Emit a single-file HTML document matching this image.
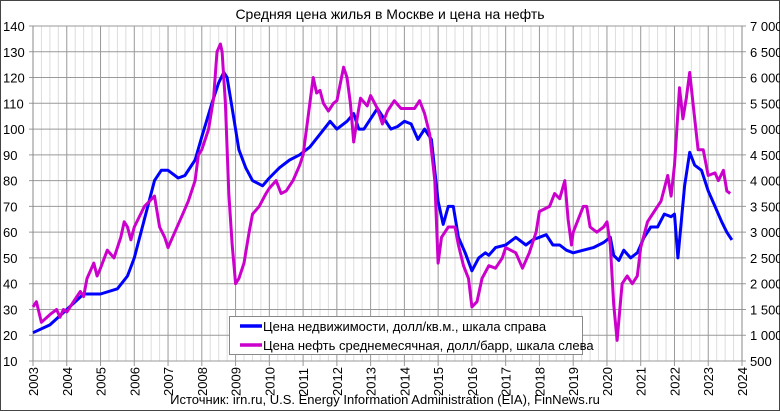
<!DOCTYPE html>
<html><head><meta charset="utf-8"><style>
body{margin:0;background:#fff}
svg{display:block;font-family:"Liberation Sans",Arial,sans-serif}
</style></head><body>
<svg id="s" width="780" height="411" xmlns="http://www.w3.org/2000/svg">
<rect x="0.5" y="0.5" width="779" height="410" fill="#fff" stroke="#444"/>
<g id="grid"></g>
<text x="390" y="19" font-size="14" text-anchor="middle" fill="#000">Средняя цена жилья в Москве и цена на нефть</text>
<g id="lab" font-size="13" fill="#000"></g>
<g id="series"></g>
<rect x="229.5" y="316.5" width="353" height="38" fill="#fff" stroke="#888"/>
<line x1="240" y1="326" x2="262" y2="326" stroke="#0000ff" stroke-width="3.5"/>
<text x="263" y="331" font-size="13">Цена недвижимости, долл/кв.м., шкала справа</text>
<line x1="240" y1="345" x2="262" y2="345" stroke="#cc00cc" stroke-width="3.5"/>
<text x="263" y="350" font-size="13">Цена нефть  среднемесячная, долл/барр, шкала слева</text>
<text x="385" y="404" font-size="13" text-anchor="middle">Источник: irn.ru, U.S. Energy Information Administration (EIA), FinNews.ru</text>
</svg>
<script>
const X0=33,X1=742,Y0=361,Y1=26;
const fx=y=>X0+(y-2003)*(X1-X0)/21, fy=v=>Y0-(v-10)*(Y0-Y1)/130;
let g='';
for(let q=0;q<=84;q++){const x=fx(2003+q/4);g+=`<line x1="${x}" y1="${Y1}" x2="${x}" y2="${Y0+(q%4?0:5)}" stroke="${q%4?'#ddd':'#999'}" stroke-width="1"/>`;}
for(let v=10;v<=140;v+=10){const y=fy(v);g+=`<line x1="${X0-4}" y1="${y}" x2="${X1+4}" y2="${y}" stroke="#999"/>`;}
g+=`<line x1="${X0}" y1="${Y1}" x2="${X0}" y2="${Y0}" stroke="#888"/><line x1="${X1}" y1="${Y1}" x2="${X1}" y2="${Y0}" stroke="#888"/>`;
document.getElementById('grid').innerHTML=g;
let l='';
for(let i=0;i<=13;i++){const v=10+i*10,y=fy(v)+5;l+=`<text x="3" y="${y}">${v}</text>`;
const r=500+i*500;l+=`<text x="${X1+8}" y="${y}">${r>=1000?Math.floor(r/1000)+'\u00a0'+String(r%1000).padStart(3,'0'):r}</text>`;}
for(let yr=2003;yr<=2024;yr++){const x=fx(yr)+5;l+=`<text transform="translate(${x},396) rotate(-90)">${yr}</text>`;}
document.getElementById('lab').innerHTML=l;
const oil=[2003,31,2003.1,33,2003.25,25,2003.5,28,2003.7,30,2003.8,27,2003.9,30,2004,29,2004.2,33,2004.4,37,2004.5,35,2004.6,42,2004.7,45,2004.8,48,2004.9,43,2005,46,2005.2,53,2005.4,50,2005.6,58,2005.7,64,2005.8,62,2005.9,57,2006,62,2006.3,70,2006.6,74,2006.75,62,2006.9,58,2007,54,2007.2,60,2007.4,66,2007.6,72,2007.8,80,2007.9,90,2008,92,2008.2,100,2008.35,112,2008.45,130,2008.55,133,2008.6,130,2008.7,110,2008.8,75,2008.9,55,2009,40,2009.1,42,2009.25,48,2009.4,60,2009.5,67,2009.7,70,2009.9,75,2010,77,2010.2,80,2010.35,75,2010.5,76,2010.7,80,2010.9,86,2011,90,2011.1,100,2011.3,120,2011.4,114,2011.5,115,2011.6,110,2011.75,107,2011.9,110,2012,111,2012.2,124,2012.3,120,2012.4,110,2012.5,95,2012.6,104,2012.7,112,2012.9,109,2013,113,2013.2,108,2013.35,102,2013.5,107,2013.7,111,2013.9,108,2014,108,2014.3,108,2014.45,111,2014.6,106,2014.75,98,2014.9,80,2015,48,2015.1,58,2015.3,62,2015.5,62,2015.6,55,2015.75,47,2015.9,42,2016,31,2016.15,33,2016.3,42,2016.5,47,2016.7,46,2016.9,50,2017,54,2017.3,52,2017.5,46,2017.7,52,2017.9,60,2018,68,2018.3,70,2018.45,75,2018.6,73,2018.75,80,2018.85,65,2018.95,55,2019,60,2019.3,70,2019.4,70,2019.5,62,2019.7,60,2019.9,62,2020,64,2020.1,55,2020.2,32,2020.3,18,2020.45,40,2020.6,43,2020.75,40,2020.9,43,2021,54,2021.2,64,2021.4,68,2021.6,72,2021.8,82,2021.9,74,2022,86,2022.15,116,2022.25,104,2022.35,112,2022.45,122,2022.55,110,2022.7,92,2022.85,92,2023,82,2023.2,83,2023.3,80,2023.45,84,2023.55,76,2023.65,75];
const re=[2003,21,2003.5,24,2004,30,2004.5,36,2005,36,2005.5,38,2005.8,43,2006,50,2006.3,65,2006.6,80,2006.8,84,2007,84,2007.3,81,2007.5,82,2007.8,88,2008,97,2008.3,110,2008.5,118,2008.65,122,2008.75,120,2008.9,108,2009.1,92,2009.3,85,2009.5,80,2009.8,78,2010,81,2010.3,85,2010.6,88,2010.9,90,2011.2,93,2011.5,98,2011.8,103,2012,100,2012.3,103,2012.5,106,2012.65,100,2012.8,100,2013,104,2013.2,108,2013.4,104,2013.6,100,2013.8,101,2014,103,2014.2,102,2014.4,96,2014.6,100,2014.8,96,2015,72,2015.15,63,2015.3,70,2015.45,70,2015.6,58,2015.8,52,2016,45,2016.2,50,2016.4,52,2016.5,51,2016.7,54,2017,55,2017.3,58,2017.6,55,2017.8,57,2018,58,2018.2,59,2018.4,55,2018.6,55,2018.8,53,2019,52,2019.3,53,2019.6,54,2019.9,56,2020.1,58,2020.2,51,2020.35,49,2020.5,53,2020.7,50,2020.9,52,2021.1,58,2021.3,62,2021.5,62,2021.7,67,2021.9,66,2022,67,2022.1,50,2022.3,78,2022.45,91,2022.6,86,2022.8,84,2023,76,2023.2,70,2023.4,64,2023.55,60,2023.7,57];
const pts=a=>{let s=[];for(let i=0;i<a.length;i+=2)s.push(fx(a[i]).toFixed(1)+','+fy(a[i+1]).toFixed(1));return s.join(' ')};
document.getElementById('series').innerHTML=`<polyline points="${pts(re)}" fill="none" stroke="#0000ff" stroke-width="3" stroke-linejoin="round"/><polyline points="${pts(oil)}" fill="none" stroke="#cc00cc" stroke-width="3" stroke-linejoin="round"/>`;
</script>
</body></html>
